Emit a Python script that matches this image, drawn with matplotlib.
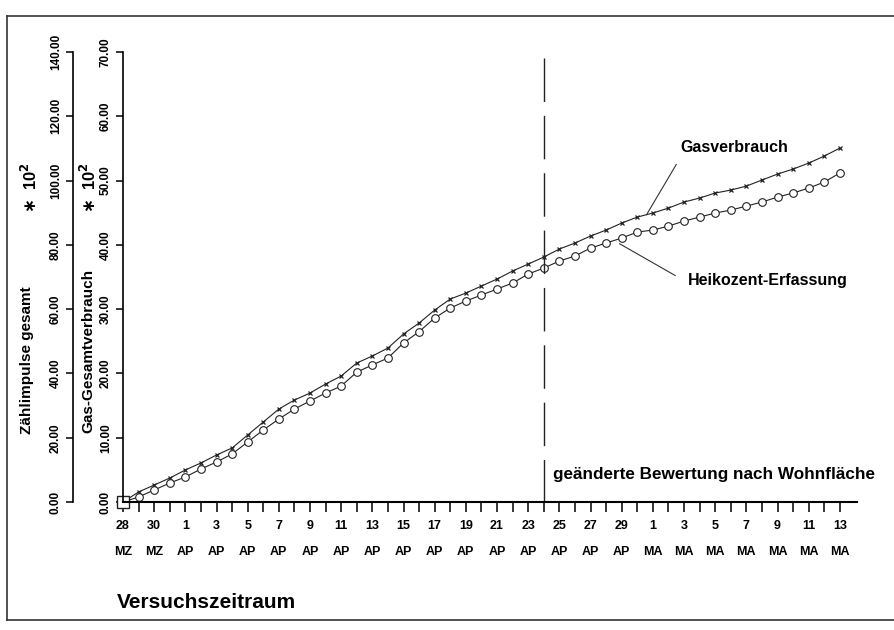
import matplotlib
matplotlib.use("Agg")
import matplotlib.pyplot as plt
from matplotlib.lines import Line2D

plt.rcParams['font.family'] = ['Liberation Sans', 'DejaVu Sans']
plt.rcParams['font.weight'] = 'bold'
plt.rcParams['mathtext.default'] = 'bf'

# days since 28 March
days = list(range(47))

# Gas-Gesamtverbrauch * 10^2
gasverbrauch = [0.0, 1.56, 2.64, 3.73, 4.98, 6.07, 7.31, 8.40, 10.42, 12.44,
                14.46, 15.86, 16.95, 18.35, 19.60, 21.62, 22.71, 23.95, 26.13, 27.84,
                29.86, 31.57, 32.50, 33.59, 34.68, 35.93, 37.01, 38.10, 39.35, 40.28,
                41.37, 42.30, 43.39, 44.32, 44.95, 45.72, 46.66, 47.28, 48.06, 48.52,
                49.14, 50.08, 51.01, 51.79, 52.72, 53.81, 55.05]
heikozent = [0.0, 0.78, 1.87, 2.95, 3.89, 5.13, 6.22, 7.47, 9.33, 11.20,
             12.90, 14.46, 15.71, 16.95, 18.04, 20.20, 21.31, 22.40, 24.73, 26.50,
             28.62, 30.17, 31.26, 32.19, 33.13, 34.06, 35.46, 36.39, 37.48, 38.26,
             39.50, 40.28, 41.06, 41.99, 42.30, 42.92, 43.70, 44.32, 44.95, 45.41,
             46.03, 46.66, 47.43, 48.06, 48.83, 49.77, 51.17]

tick_days = list(range(0, 47, 2))
day_labels = ['28', '30'] + [str(d) for d in range(1, 30, 2)] + [str(d) for d in range(1, 14, 2)]
month_labels = ['MZ', 'MZ'] + ['AP'] * 15 + ['MA'] * 7
change_day = 27  # 24. April

gas_ticks = [0, 10, 20, 30, 40, 50, 60, 70]
impuls_ticks = [0, 20, 40, 60, 80, 100, 120, 140]

W, H = 895, 630
fig = plt.figure(figsize=(W / 100, H / 100), dpi=100)
ax = fig.add_axes([123 / W, 1 - 502 / H, (857 - 123) / W, (502 - 52) / H])

ax.plot(days, gasverbrauch, color='#222222', lw=0.8, marker='x', ms=3.5, mew=0.9)
ax.plot(days, heikozent, color='#222222', lw=0.8, marker='o', ms=5.5,
        mfc='white', mec='#222222', mew=0.8)
ax.plot([0], [0], marker='s', ms=9, mfc='white', mec='#222222', mew=1.0, clip_on=False)

# drawn top-down so the dash pattern starts at the top and ends on the axis
ax.plot([change_day, change_day], [69, 0], color='#222222', lw=1.0, dashes=(31.3, 10))

ax.set_xlim(0, 47.1)
ax.set_ylim(0, 70)
ax.spines['top'].set_visible(False)
ax.spines['right'].set_visible(False)
ax.spines['left'].set_linewidth(1.2)
ax.spines['bottom'].set_linewidth(1.5)

ax.set_xticks(days, minor=True)
ax.set_xticks(tick_days, [f'{d}\n{m}' for d, m in zip(day_labels, month_labels)])
ax.tick_params(axis='x', which='both', length=7, width=1.1, direction='out')
ax.tick_params(axis='x', pad=6, labelsize=9)
for lab in ax.get_xticklabels():
    lab.set_linespacing(2.5)
    lab.set_va('top')

ax.set_yticks(gas_ticks, [f'{v:.2f}' for v in gas_ticks])
ax.tick_params(axis='y', length=5, width=1.1, pad=3, labelsize=8.5, labelrotation=90)
for lab in ax.get_yticklabels():
    lab.set_va('center')

sec = ax.secondary_yaxis(-0.068, functions=(lambda v: v * 2, lambda v: v / 2))
sec.set_yticks(impuls_ticks, [f'{v:.2f}' for v in impuls_ticks])
sec.tick_params(axis='y', length=5, width=1.1, pad=3, labelsize=8.5, labelrotation=90)
sec.spines['left'].set_linewidth(1.2)
for lab in sec.get_yticklabels():
    lab.set_va('center')

# labels of the curves
ax.text(39.2, 55.2, 'Gasverbrauch', ha='center', va='center', fontsize=11.5)
ax.annotate('', xy=(33.5, 44.3), xytext=(35.6, 52.9),
            arrowprops=dict(arrowstyle='-', color='#333333', lw=0.8))
ax.text(41.4, 34.5, 'Heikozent-Erfassung', ha='center', va='center', fontsize=11.5)
ax.annotate('', xy=(31.7, 40.4), xytext=(35.6, 35.0),
            arrowprops=dict(arrowstyle='-', color='#333333', lw=0.8))
ax.text(27.6, 4.35, 'geänderte Bewertung nach Wohnfläche', ha='left', va='center', fontsize=12.3)

# axis titles
power = r'$\ast$  10$^{2}$'
fig.text(27 / W, 1 - 360 / H, 'Zählimpulse gesamt', rotation=90, ha='center', va='center', fontsize=11)
fig.text(30 / W, 1 - 188 / H, power, rotation=90, ha='center', va='center', fontsize=12)
fig.text(88 / W, 1 - 351 / H, 'Gas-Gesamtverbrauch', rotation=90, ha='center', va='center', fontsize=11)
fig.text(89 / W, 1 - 188 / H, power, rotation=90, ha='center', va='center', fontsize=12)
fig.text(117 / W, 1 - 603 / H, 'Versuchszeitraum', ha='left', va='center', fontsize=15)

# frame of the scanned page
fig.add_artist(Line2D([7 / W, 1], [1 - 16 / H, 1 - 16 / H], color='#333333', lw=1.2))
fig.add_artist(Line2D([7 / W, 7 / W], [1 - 16 / H, 1 - 620 / H], color='#333333', lw=1.2))
fig.add_artist(Line2D([7 / W, 1], [1 - 620 / H, 1 - 620 / H], color='#333333', lw=1.2))

fig.savefig('out.png', dpi=100)
